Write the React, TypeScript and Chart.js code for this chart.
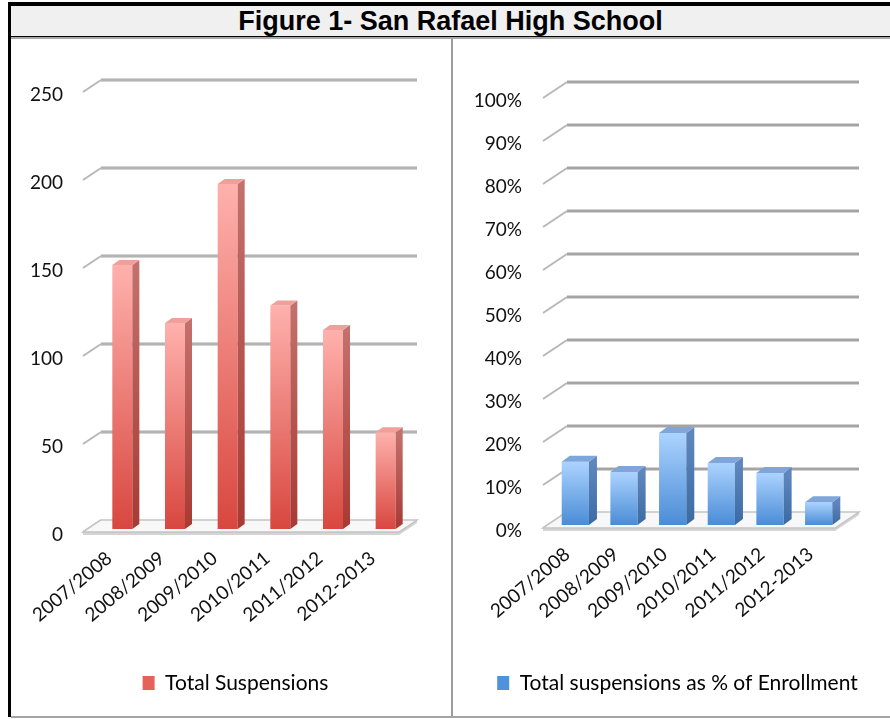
import React, { useEffect, useRef } from "react";
import { Chart, registerables } from "chart.js";

Chart.register(...registerables);

const categories = ["2007/2008", "2008/2009", "2009/2010", "2010/2011", "2011/2012", "2012-2013"];
const totalSuspensions = [150, 117, 196, 127, 113, 55];
const suspensionPct = [0.147, 0.123, 0.214, 0.144, 0.121, 0.053];
const countTicks = [0, 50, 100, 150, 200, 250];
const pctTicks = [0, 0.1, 0.2, 0.3, 0.4, 0.5, 0.6, 0.7, 0.8, 0.9, 1.0];
const leftLegend = "Total Suspensions";
const rightLegend = "Total suspensions as % of Enrollment";
const titleText = "Figure 1- San Rafael High School";

const FONT = "Lato, 'Open Sans', sans-serif";

const threeD = {
  id: "threeD",
  beforeDatasetsDraw(chart: any, _args: any, opts: any) {
    const { ctx, chartArea: ca, scales } = chart;
    const y = scales.y;
    const { dx, dy } = opts;
    ctx.save();
    const y0 = y.getPixelForValue(0);
    y.ticks.forEach((t: any) => {
      const py = y.getPixelForValue(t.value);
      if (t.value !== 0) {
        ctx.beginPath();
        ctx.moveTo(ca.left + dx, py + dy);
        ctx.lineTo(ca.right + dx, py + dy);
        ctx.lineWidth = 4;
        ctx.strokeStyle = "rgba(205,205,205,0.9)";
        ctx.stroke();
        ctx.beginPath();
        ctx.moveTo(ca.left + dx, py + dy);
        ctx.lineTo(ca.right + dx, py + dy);
        ctx.lineWidth = 1.5;
        ctx.strokeStyle = opts.gridColor;
        ctx.stroke();
      }
      ctx.beginPath();
      ctx.moveTo(ca.left, py);
      ctx.lineTo(ca.left + dx, py + dy);
      ctx.lineWidth = 2;
      ctx.strokeStyle = "rgba(175,175,175,0.9)";
      ctx.stroke();
    });
    ctx.beginPath();
    ctx.moveTo(ca.left, y0 + 3);
    ctx.lineTo(ca.right, y0 + 3);
    ctx.lineTo(ca.right + dx, y0 + dy + 3);
    ctx.lineTo(ca.right + dx, y0 + dy);
    ctx.lineTo(ca.left + dx, y0 + dy);
    ctx.lineTo(ca.left, y0);
    ctx.closePath();
    ctx.fillStyle = "#d4d4d4";
    ctx.fill();
    ctx.beginPath();
    ctx.moveTo(ca.left, y0);
    ctx.lineTo(ca.right, y0);
    ctx.lineTo(ca.right + dx, y0 + dy);
    ctx.lineTo(ca.left + dx, y0 + dy);
    ctx.closePath();
    ctx.fillStyle = "#f8f8f8";
    ctx.fill();
    ctx.lineWidth = 1.5;
    ctx.strokeStyle = "#c4c4c4";
    ctx.stroke();
    ctx.restore();
    ctx.save();
    ctx.translate(opts.tx, opts.ty);
  },
  afterDatasetsDraw(chart: any, _args: any, opts: any) {
    const ctx = chart.ctx;
    const { bdx, bdy } = opts;
    chart.getDatasetMeta(0).data.forEach((bar: any) => {
      const { x, y, base, width } = bar.getProps(["x", "y", "base", "width"], true);
      const l = x - width / 2;
      const r = x + width / 2;
      const sg = ctx.createLinearGradient(0, y, 0, base);
      sg.addColorStop(0, opts.sideTop);
      sg.addColorStop(1, opts.sideBottom);
      ctx.beginPath();
      ctx.moveTo(r, y);
      ctx.lineTo(r + bdx, y + bdy);
      ctx.lineTo(r + bdx, base + bdy);
      ctx.lineTo(r, base);
      ctx.closePath();
      ctx.fillStyle = sg;
      ctx.fill();
      ctx.beginPath();
      ctx.moveTo(l, y);
      ctx.lineTo(l + bdx, y + bdy);
      ctx.lineTo(r + bdx, y + bdy);
      ctx.lineTo(r, y);
      ctx.closePath();
      ctx.fillStyle = opts.topColor;
      ctx.fill();
    });
    ctx.restore();
  },
};

function makeConfig(p: any) {
  return {
    type: "bar",
    data: {
      labels: categories,
      datasets: [
        {
          label: p.legend,
          data: p.values,
          clip: false,
          yAxisID: "y",
          backgroundColor: (c: any) => {
            const chart = c.chart;
            const ys = chart.scales && chart.scales.y;
            if (!ys || c.raw === undefined) return p.solid;
            const top = ys.getPixelForValue(c.raw);
            const bottom = ys.getPixelForValue(0);
            const g = chart.ctx.createLinearGradient(0, top, 0, bottom);
            g.addColorStop(0, p.gTop);
            g.addColorStop(1, p.gBottom);
            return g;
          },
          borderWidth: 0,
          barPercentage: p.barPct,
          categoryPercentage: 1,
        },
      ],
    },
    plugins: [threeD],
    options: {
      animation: false,
      responsive: false,
      maintainAspectRatio: false,
      layout: { padding: { left: p.padLeft, top: p.padTop, right: 0, bottom: 11.5 } },
      scales: {
        x: {
          offset: true,
          grid: { display: false, drawTicks: false },
          border: { display: false },
          ticks: {
            autoSkip: false,
            minRotation: 40,
            maxRotation: 40,
            padding: 15,
            color: "#111",
            font: { family: FONT, size: 19 },
          },
          afterFit: (s: any) => {
            s.height = p.xHeight;
          },
        },
        y: {
          min: 0,
          max: p.max,
          grid: { display: false, drawTicks: false },
          border: { display: false },
          afterBuildTicks: (s: any) => {
            s.ticks = p.ticks.map((v: number) => ({ value: v }));
          },
          ticks: {
            padding: p.tickPad,
            labelOffset: 3,
            color: "#111",
            font: { family: FONT, size: 19 },
            callback: p.fmt,
          },
          afterFit: (s: any) => {
            s.width = p.yWidth;
          },
        },
        yRight: {
          type: "linear",
          position: "right",
          display: true,
          min: 0,
          max: 1,
          grid: { display: false, drawTicks: false },
          border: { display: false },
          ticks: { display: false },
          afterFit: (s: any) => {
            s.width = p.rightGap;
          },
        },
      },
      plugins: {
        tooltip: { enabled: false },
        legend: {
          position: "bottom",
          labels: {
            boxWidth: 12,
            boxHeight: 14,
            padding: 10,
            color: "#111",
            font: { family: FONT, size: 21 },
            generateLabels: () => [
              {
                text: p.legend,
                fillStyle: p.solid,
                strokeStyle: p.solid,
                lineWidth: 0,
                hidden: false,
                datasetIndex: 0,
              },
            ],
          },
        },
        threeD: p.three,
      },
    },
  };
}

function ChartBox({ cfg, style, w, h }: any) {
  const ref = useRef<HTMLCanvasElement>(null);
  useEffect(() => {
    if (!ref.current) return;
    const ch = new Chart(ref.current, cfg);
    return () => ch.destroy();
  }, []);
  return (
    <canvas ref={ref} width={w} height={h} style={{ position: "absolute", width: w, height: h, ...style }} />
  );
}

export default function App() {
  const leftCfg = makeConfig({
    legend: leftLegend,
    values: totalSuspensions,
    max: 250,
    ticks: countTicks,
    fmt: (v: number) => String(v),
    solid: "#e5625b",
    gTop: "#ffb1ad",
    gBottom: "#d8473f",
    barPct: 0.38,
    padTop: 52,
    padLeft: 9,
    rightGap: 51,
    yWidth: 62,
    tickPad: 20,
    xHeight: 130.5,
    three: {
      dx: 18, dy: -12, tx: 13, ty: -3, bdx: 7, bdy: -5,
      gridColor: "rgba(170,170,170,1)",
      sideTop: "#c4706c", sideBottom: "#a83a33", topColor: "#f0a09b",
    },
  });
  const rightCfg = makeConfig({
    legend: rightLegend,
    values: suspensionPct,
    max: 1,
    ticks: pctTicks,
    fmt: (v: number) => Math.round(v * 100) + "%",
    solid: "#4f92dc",
    gTop: "#acd3ff",
    gBottom: "#4a8cd6",
    barPct: 0.56,
    padTop: 58,
    padLeft: 11,
    rightGap: 55,
    yWidth: 78,
    tickPad: 21,
    xHeight: 134.5,
    three: {
      dx: 24, dy: -16, tx: 8, ty: -3, bdx: 8, bdy: -6,
      gridColor: "rgba(150,150,150,1)",
      sideTop: "#5f87bd", sideBottom: "#3b6aa3", topColor: "#7fa6d8",
    },
  });
  return (
    <div style={{ position: "absolute", left: 0, top: 0, width: 890, height: 719, background: "#fff" }}>
      <div style={{ position: "absolute", left: 8, top: 2, width: 882, height: 4, background: "#000" }} />
      <div style={{ position: "absolute", left: 8, top: 2, width: 3, height: 715, background: "#000" }} />
      <div
        style={{
          position: "absolute", left: 11, top: 6, width: 879, height: 30, background: "#f0f0f0",
          display: "flex", alignItems: "center", justifyContent: "center",
          fontFamily: "'Liberation Sans', Arial, sans-serif", fontWeight: "bold", fontSize: 27, color: "#000",
        }}
      >
        {titleText}
      </div>
      <div style={{ position: "absolute", left: 11, top: 36, width: 879, height: 1, background: "#000" }} />
      <div style={{ position: "absolute", left: 11, top: 37, width: 879, height: 2, background: "#a8a8a8" }} />
      <div style={{ position: "absolute", left: 451, top: 39, width: 2, height: 678, background: "#9c9c9c" }} />
      <div style={{ position: "absolute", left: 11, top: 716, width: 879, height: 2, background: "#a4a4a4" }} />
      <ChartBox cfg={leftCfg} w={438} h={675} style={{ left: 12, top: 40 }} />
      <ChartBox cfg={rightCfg} w={436} h={675} style={{ left: 454, top: 40 }} />
    </div>
  );
}
